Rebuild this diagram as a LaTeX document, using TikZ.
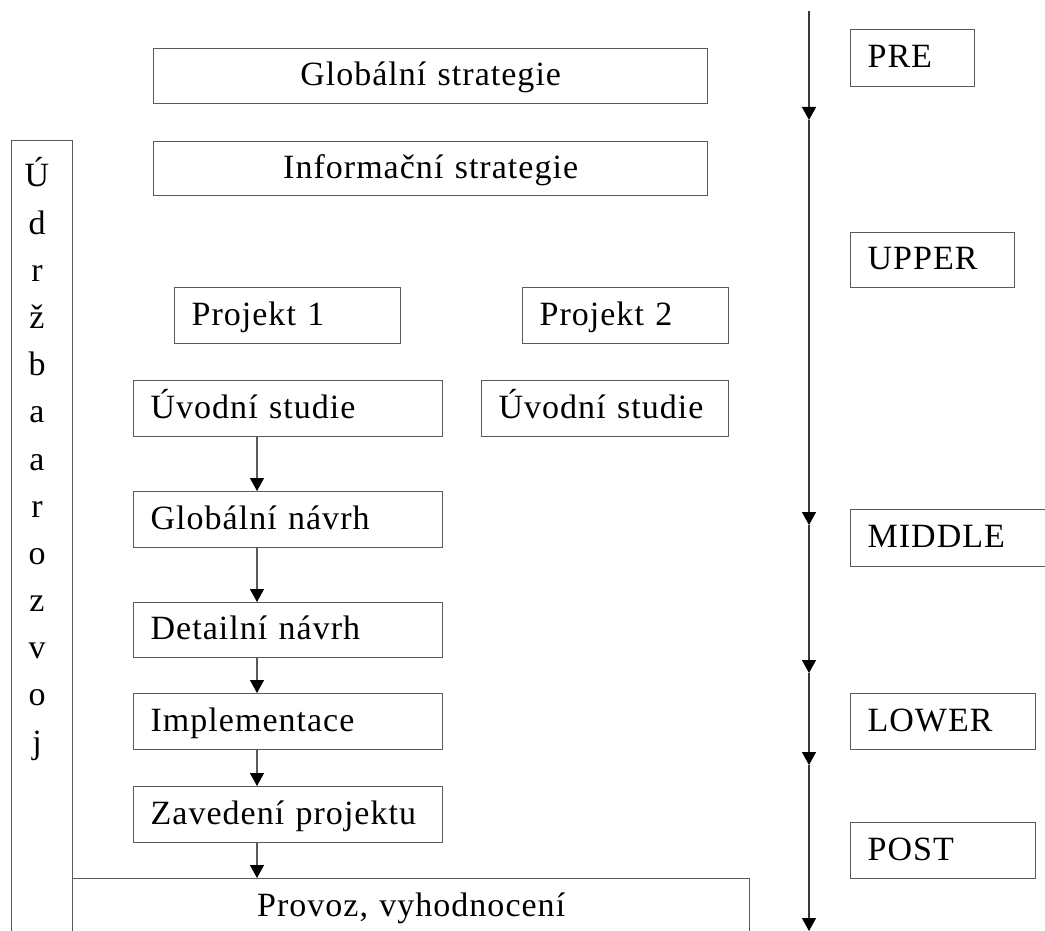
\documentclass[tikz,border=0pt]{standalone}
\usepackage{fontspec}
\setmainfont{Liberation Serif}[LetterSpace=3]
\usetikzlibrary{arrows.meta}
\definecolor{lc}{HTML}{5A5A5A}
\definecolor{rc}{HTML}{3A3A3A}
\tikzset{
  box/.style={draw=lc, line width=1.3pt, rectangle, anchor=north west,
    inner xsep=17pt, inner ysep=0pt, text height=26pt, text depth=7pt, align=left},
  conn/.style={draw=lc, line width=1.3pt, -{Triangle[width=14pt,length=13pt,color=black]}},
  rline/.style={draw=rc, line width=1.4pt, -{Triangle[width=14pt,length=13pt,color=black]}},
  letter/.style={anchor=base, inner sep=0pt}
}
\begin{document}
\begin{tikzpicture}[x=1pt,y=-1pt,font=\fontsize{34}{40}\selectfont]
\useasboundingbox (0,0) rectangle (1045,931);
\clip (0,0) rectangle (1045,931);
\fill[white] (0,0) rectangle (1045,931);

% left maintenance column
\node[draw=lc, line width=1.3pt, rectangle, anchor=north west, minimum width=61pt, minimum height=820pt, inner sep=0pt] (udr) at (11,140) {};
\foreach \c [count=\i] in {Ú,d,r,ž,b,a,a,r,o,z,v,o,j}
  \node[letter] (l\i) at (37,{187+47.17*(\i-1)}) {\c};

% strategy boxes
\node[box, minimum width=554pt, minimum height=55pt, text width=520pt, align=center] (gs) at (153,48) {Globální strategie};
\node[box, minimum width=554pt, minimum height=54pt, text width=520pt, align=center] (is) at (153,141) {Informační strategie};

% projects
\node[box, minimum width=226pt, minimum height=56pt, text width=192pt] (p1) at (174,287) {Projekt 1};
\node[box, minimum width=206pt, minimum height=56pt, text width=172pt] (p2) at (522,287) {Projekt 2};
\node[box, minimum width=309pt, minimum height=56pt, text width=275pt] (u1) at (133,380) {Úvodní studie};
\node[box, minimum width=247pt, minimum height=56pt, text width=213pt] (u2) at (481,380) {Úvodní studie};
\node[box, minimum width=309pt, minimum height=56pt, text width=275pt] (gn) at (133,491) {Globální návrh};
\node[box, minimum width=309pt, minimum height=55pt, text width=275pt] (dn) at (133,602) {Detailní návrh};
\node[box, minimum width=309pt, minimum height=56pt, text width=275pt] (im) at (133,693) {Implementace};
\node[box, minimum width=309pt, minimum height=56pt, text width=275pt] (zp) at (133,786) {Zavedení projektu};
\node[box, minimum width=677pt, minimum height=56pt, text width=643pt, align=center] (pv) at (72,878) {Provoz, vyhodnocení};

% flow arrows
\coordinate (ax) at (257,0);
\draw[conn] (ax |- u1.south) -- (ax |- gn.north);
\draw[conn] (ax |- gn.south) -- (ax |- dn.north);
\draw[conn] (ax |- dn.south) -- (ax |- im.north);
\draw[conn] (ax |- im.south) -- (ax |- zp.north);
\draw[conn] (ax |- zp.south) -- (ax |- pv.north);

% phase line
\coordinate (t0) at (809,11);
\coordinate (t1) at (809,120);
\coordinate (t2) at (809,525);
\coordinate (t3) at (809,673);
\coordinate (t4) at (809,765);
\coordinate (t5) at (809,931);
\draw[rline] (t0) -- (t1);
\draw[rline] (t1) -- (t2);
\draw[rline] (t2) -- (t3);
\draw[rline] (t3) -- (t4);
\draw[rline] (t4) -- (t5);

% phase boxes
\node[box, minimum width=124pt, minimum height=57pt, text width=90pt] (pre) at (850,29) {PRE};
\node[box, minimum width=164pt, minimum height=55pt, text width=130pt] (upper) at (850,232) {UPPER};
\node[box, minimum width=215pt, minimum height=57pt, text width=181pt] (middle) at (850,509) {MIDDLE};
\node[box, minimum width=185pt, minimum height=56pt, text width=151pt] (lower) at (850,693) {LOWER};
\node[box, minimum width=185pt, minimum height=56pt, text width=151pt] (post) at (850,822) {POST};
\end{tikzpicture}
\end{document}
